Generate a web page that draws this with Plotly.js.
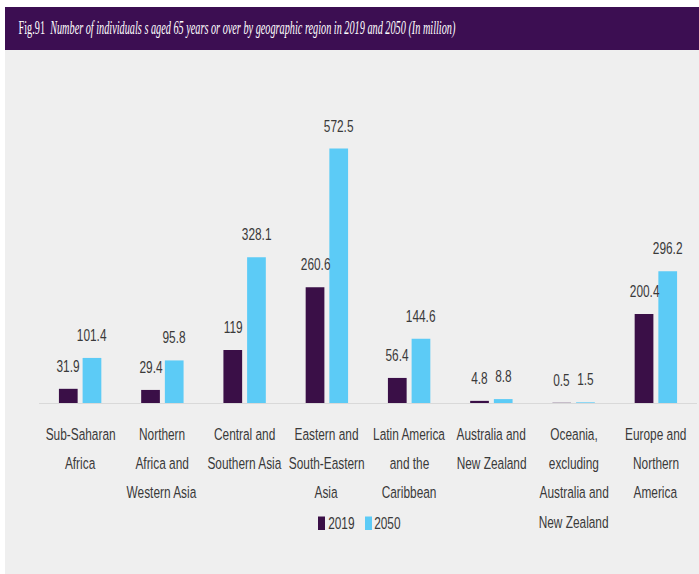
<!DOCTYPE html>
<html>
<head>
<meta charset="utf-8">
<script src="https://cdn.plot.ly/plotly-3.0.1.min.js"></script>
<style>
html,body{margin:0;padding:0;background:#fff;}
#chart{width:699px;height:574px;}
#chart .annotation-text{transform-box:fill-box;transform-origin:center;transform:scaleX(0.72);}
#chart .annotation[data-index="0"] .annotation-text{transform:scaleX(0.54);}
</style>
</head>
<body>
<div id="chart"></div>
<script>
// ---- data ----
const categoryLines = [
  ["Sub-Saharan", "Africa"],
  ["Northern", "Africa and", "Western Asia"],
  ["Central and", "Southern Asia"],
  ["Eastern and", "South-Eastern", "Asia"],
  ["Latin America", "and the", "Caribbean"],
  ["Australia and", "New Zealand"],
  ["Oceania,", "excluding", "Australia and", "New Zealand"],
  ["Europe and", "Northern", "America"]
];
const categories = categoryLines.map(l => l.join(" "));
const values2019 = [31.9, 29.4, 119, 260.6, 56.4, 4.8, 0.5, 200.4];
const values2050 = [101.4, 95.8, 328.1, 572.5, 144.6, 8.8, 1.5, 296.2];
const seriesNames = ["2019", "2050"];
const titleText = "Fig.91  <i>Number of individuals s aged 65 years or over by geographic region in 2019 and 2050 (In million)</i>";

// ---- layout constants ----
const W = 699, H = 574;
const M = {l: 39, r: 2, t: 60, b: 171, autoexpand: false};
const plotW = W - M.l - M.r, plotH = H - M.t - M.b;
const baseY = H - M.b;
const px2x = px => (px - M.l) / plotW;
const py2y = py => (baseY - py) / plotH;

const colors = ["#3a0f47", "#5ccbf6"];
const fontFam = "'Liberation Sans', Arial, sans-serif";
const textColor = "#3a3a3a";

const traces = [values2019, values2050].map((vals, i) => ({
  type: "bar",
  name: seriesNames[i],
  x: categories,
  y: vals,
  marker: {color: colors[i]},
  hoverinfo: "x+y",
  showlegend: false
}));

const annotations = [];
// title (index 0)
annotations.push({
  x: px2x(236.5), y: py2y(28), xref: "paper", yref: "paper",
  xanchor: "center", yanchor: "middle", showarrow: false,
  text: titleText,
  font: {family: "'Liberation Serif', serif", size: 19, color: "#ffffff"}
});
// value labels
const slot = 23.7;
[values2019, values2050].forEach((vals, i) => {
  vals.forEach((v, j) => {
    annotations.push({
      x: categories[j], y: v, xref: "x", yref: "y",
      text: String(v), showarrow: false,
      xshift: (i === 0 ? -1 : 1) * slot / 2,
      yshift: 23, yanchor: "middle", xanchor: "center",
      font: {family: fontFam, size: 16.5, color: textColor}
    });
  });
});
// category labels
categoryLines.forEach((lines, j) => {
  lines.forEach((line, k) => {
    annotations.push({
      x: categories[j], y: 0, xref: "x", yref: "y",
      text: line, showarrow: false,
      yshift: -30.5 - k * 29.4, yanchor: "middle", xanchor: "center",
      font: {family: fontFam, size: 16.5, color: textColor}
    });
  });
});

// custom legend (marker boxes + names)
const legendMarkers = [[318, 325], [365, 372]];
const legendTextCenters = [341.5, 387.5];
const legendShapes = [];
seriesNames.forEach((name, i) => {
  legendShapes.push({
    type: "rect", xref: "paper", yref: "paper",
    x0: px2x(legendMarkers[i][0]), x1: px2x(legendMarkers[i][1]),
    y0: py2y(530), y1: py2y(516.5),
    fillcolor: colors[i], line: {width: 0}
  });
  annotations.push({
    x: px2x(legendTextCenters[i]), y: py2y(523), xref: "paper", yref: "paper",
    xanchor: "center", yanchor: "middle", showarrow: false,
    text: name,
    font: {family: fontFam, size: 16.5, color: textColor}
  });
});

const layout = {
  width: W, height: H,
  margin: M,
  paper_bgcolor: "#ffffff",
  plot_bgcolor: "rgba(0,0,0,0)",
  barmode: "group",
  bargap: 0.424,
  bargroupgap: 0.21,
  showlegend: false,
  xaxis: {
    type: "category", range: [-0.5, categories.length - 0.5], autorange: false,
    showticklabels: false, ticks: "",
    showline: true, linecolor: "#d9d9d9", linewidth: 1,
    showgrid: false, zeroline: false, fixedrange: true
  },
  yaxis: {
    range: [0, plotH / 0.4444], autorange: false, visible: false, showgrid: false,
    zeroline: false, fixedrange: true
  },
  shapes: [
    {type: "rect", xref: "paper", yref: "paper", layer: "below",
     x0: px2x(5), x1: px2x(700), y0: py2y(575), y1: py2y(50),
     fillcolor: "#efefef", line: {width: 0}},
    {type: "rect", xref: "paper", yref: "paper", layer: "below",
     x0: px2x(5), x1: px2x(700), y0: py2y(50), y1: py2y(7),
     fillcolor: "#3c0e52", line: {width: 0}}
  ].concat(legendShapes),
  annotations: annotations
};

Plotly.newPlot("chart", traces, layout, {displayModeBar: false, staticPlot: true});
</script>
</body>
</html>
